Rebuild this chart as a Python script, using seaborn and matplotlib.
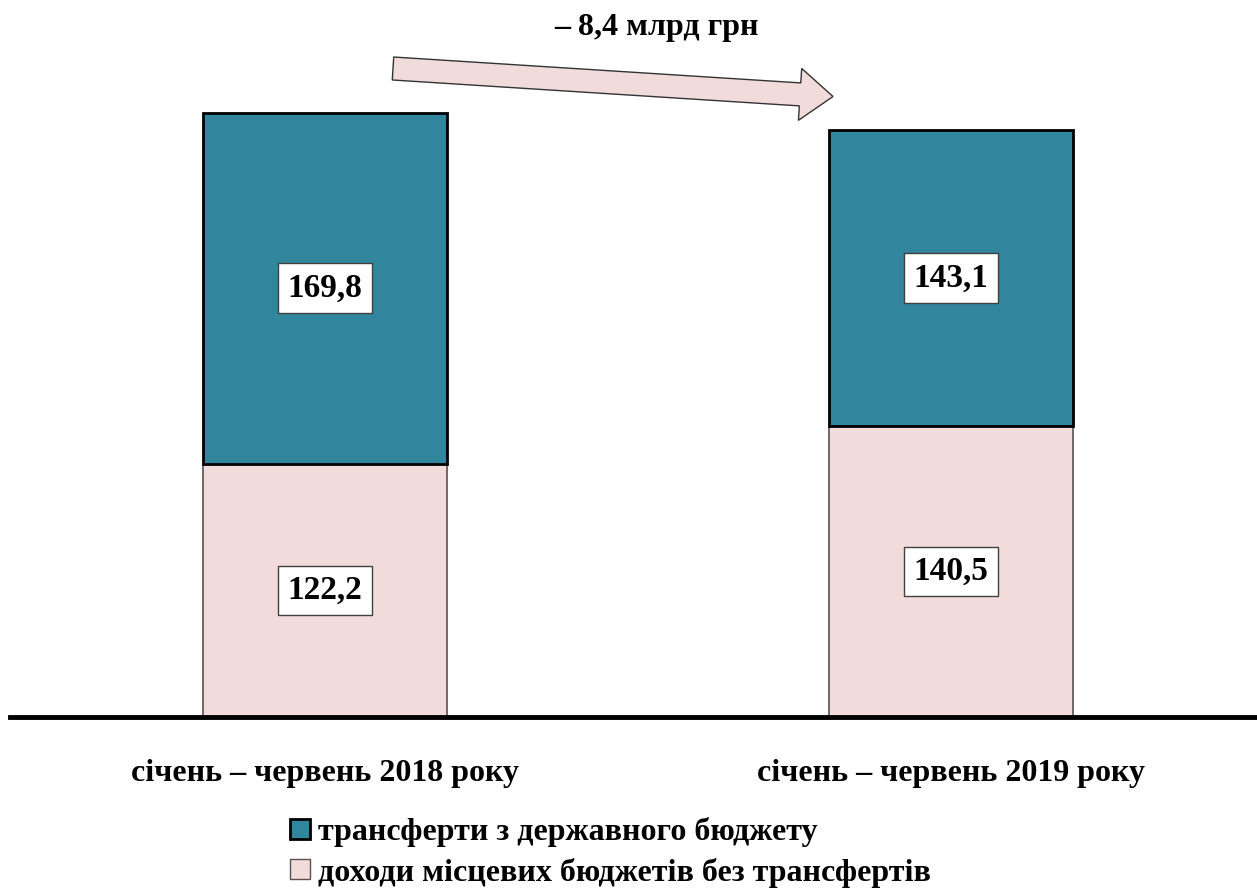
import matplotlib
matplotlib.use("Agg")
import matplotlib.pyplot as plt
import seaborn as sns
import pandas as pd
from matplotlib.patches import FancyArrow, Patch
from matplotlib.transforms import Affine2D

periods = ["січень – червень 2018 року", "січень – червень 2019 року"]
own_revenue = [122.2, 140.5]
transfers = [169.8, 143.1]
series_names = ["трансферти з державного бюджету", "доходи місцевих бюджетів без трансфертів"]
change_label = "– 8,4 млрд грн"

TEAL = "#31859C"
PINK = "#F2DCDB"

sns.set_theme(style="white")
plt.rcParams["font.family"] = ["Liberation Serif", "DejaVu Serif"]
plt.rcParams["font.weight"] = "bold"
plt.rcParams["text.color"] = "black"
plt.rcParams["xtick.color"] = "black"
plt.rcParams["xtick.labelcolor"] = "black"

W, H, DPI = 1257, 889, 100
fig = plt.figure(figsize=(W / DPI, H / DPI), dpi=DPI)
ax = fig.add_axes([10 / W, (H - 717) / H, 1 - 10 / W, 717 / H])

df = pd.DataFrame({"period": periods, "own": own_revenue, "transfers": transfers})

sns.barplot(data=df, x="period", y="own", color=PINK, width=0.39,
            edgecolor="#5a5050", linewidth=1.2, saturation=1, ax=ax)
sns.barplot(data=df, x="period", y="transfers", color=TEAL, width=0.39,
            bottom=df["own"].values, edgecolor="black", linewidth=2,
            saturation=1, ax=ax)

ax.set_xlim(-0.503, 1.489)
ax.set_ylim(0, 346.4)
ax.set_xlabel("")
ax.set_ylabel("")
ax.set_yticks([])
for s in ["top", "left", "right"]:
    ax.spines[s].set_visible(False)
ax.spines["bottom"].set_color("black")
ax.spines["bottom"].set_linewidth(3.5)
ax.tick_params(axis="x", length=0, pad=30, labelsize=23, labelcolor="black")
for lbl in ax.get_xticklabels():
    lbl.set_fontweight("bold")

box = dict(boxstyle="square,pad=0.28", facecolor="white", edgecolor="#404040", linewidth=1)
for i in range(len(periods)):
    ax.text(i, own_revenue[i] / 2, f"{own_revenue[i]:.1f}".replace(".", ","),
            ha="center", va="center", fontsize=24, fontweight="bold", color="black", bbox=box)
    ax.text(i, own_revenue[i] + transfers[i] / 2, f"{transfers[i]:.1f}".replace(".", ","),
            ha="center", va="center", fontsize=24, fontweight="bold", color="black", bbox=box)

# arrow in pixel coordinates
px = Affine2D().scale(1 / DPI) + fig.dpi_scale_trans
arrow = FancyArrow(393, H - 68.5, 440, -28, width=23, head_width=52, head_length=33,
                   length_includes_head=True, facecolor=PINK, edgecolor="#333333",
                   linewidth=1, transform=px)
fig.patches.append(arrow)
fig.text(657 / W, 1 - 28 / H, change_label, ha="center", va="center",
         fontsize=23, fontweight="bold", color="black")

handles = [Patch(facecolor=TEAL, edgecolor="black", linewidth=2),
           Patch(facecolor=PINK, edgecolor="#5a5050", linewidth=1)]
fig.legend(handles, series_names, loc="upper left", bbox_to_anchor=(284 / W, 1 - 811 / H),
           frameon=False, handlelength=0.6, handleheight=0.6, handletextpad=0.25,
           labelspacing=0.32, prop={"size": 23, "weight": "bold"}, borderaxespad=0,
           borderpad=0.2, labelcolor="black")

fig.savefig("out.png", dpi=DPI)
